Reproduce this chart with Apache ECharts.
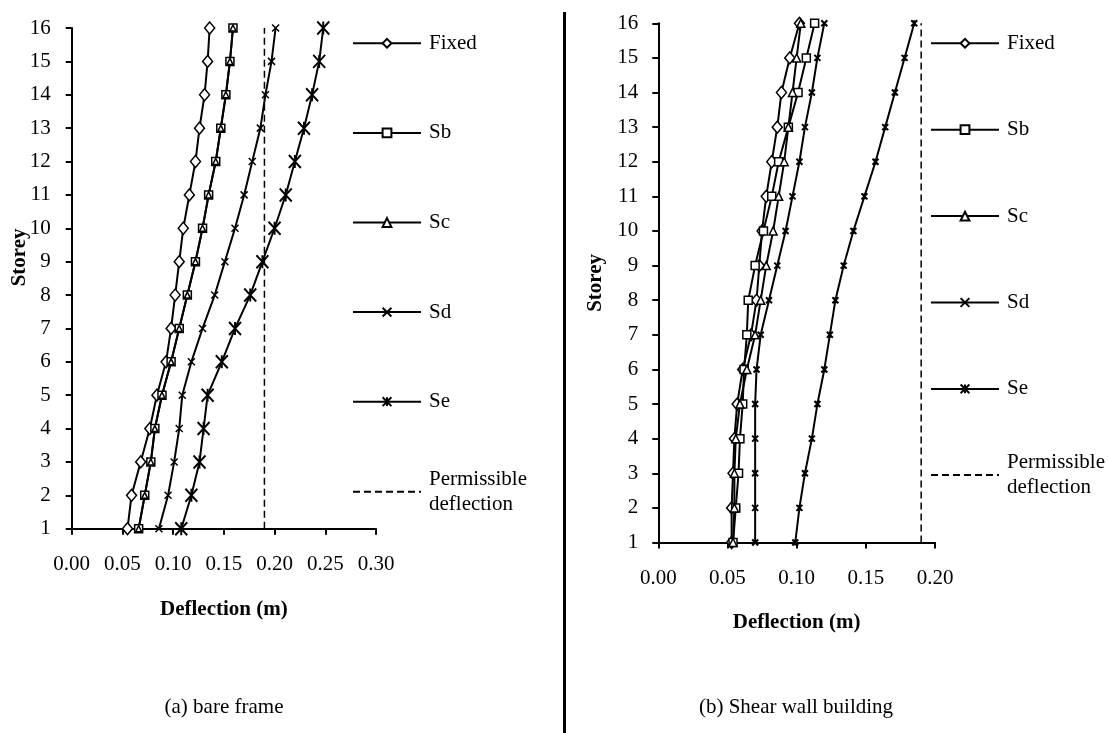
<!DOCTYPE html>
<html>
<head>
<meta charset="utf-8">
<title>Storey deflection</title>
<script src="https://cdn.jsdelivr.net/npm/echarts@6/dist/echarts.min.js"></script>
<style>
  html, body { margin: 0; padding: 0; background: #fff; width: 1108px; height: 733px; overflow: hidden; }
  #bare { position: absolute; left: 0; top: 0; width: 563px; height: 733px; z-index: 1; }
  #wall { position: absolute; left: 565px; top: 0; width: 543px; height: 733px; z-index: 1; }
  #divider { position: absolute; left: 563px; top: 12px; width: 3px; height: 721px; background: #000; z-index: 2; }
</style>
</head>
<body>
<div id="bare"></div>
<div id="wall"></div>
<div id="divider"></div>
<script>
// Storey numbers (y values) shared by every series
const storeys = [1, 2, 3, 4, 5, 6, 7, 8, 9, 10, 11, 12, 13, 14, 15, 16];
const seriesNames = ['Fixed', 'Sb', 'Sc', 'Sd', 'Se'];
const permissibleName = 'Permissible deflection';
const permissibleDeflection = 0.19;

// (a) bare frame: lateral deflection (m) per storey, storey 1 -> 16
const bareFixed = [0.055, 0.059, 0.068, 0.077, 0.084, 0.093, 0.098, 0.102, 0.106, 0.110, 0.116, 0.122, 0.126, 0.131, 0.134, 0.136];
const bareSb    = [0.066, 0.072, 0.078, 0.082, 0.089, 0.098, 0.106, 0.114, 0.122, 0.129, 0.135, 0.142, 0.147, 0.152, 0.156, 0.159];
const bareSc    = [0.066, 0.072, 0.078, 0.082, 0.089, 0.098, 0.106, 0.114, 0.122, 0.129, 0.135, 0.142, 0.147, 0.152, 0.156, 0.159];
const bareSd    = [0.086, 0.095, 0.101, 0.106, 0.109, 0.118, 0.129, 0.141, 0.151, 0.161, 0.170, 0.178, 0.186, 0.191, 0.197, 0.201];
const bareSe    = [0.108, 0.118, 0.126, 0.130, 0.134, 0.148, 0.161, 0.176, 0.188, 0.200, 0.211, 0.220, 0.229, 0.237, 0.244, 0.248];

// (b) shear wall building
const wallFixed = [0.053, 0.053, 0.054, 0.055, 0.057, 0.061, 0.067, 0.071, 0.073, 0.075, 0.078, 0.082, 0.086, 0.089, 0.095, 0.102];
const wallSb    = [0.054, 0.056, 0.058, 0.059, 0.061, 0.062, 0.064, 0.065, 0.070, 0.076, 0.082, 0.087, 0.094, 0.101, 0.107, 0.113];
const wallSc    = [0.054, 0.055, 0.055, 0.056, 0.059, 0.064, 0.070, 0.074, 0.078, 0.083, 0.087, 0.091, 0.094, 0.097, 0.100, 0.103];
const wallSd    = [0.070, 0.070, 0.070, 0.070, 0.070, 0.071, 0.074, 0.080, 0.086, 0.092, 0.097, 0.102, 0.106, 0.111, 0.115, 0.120];
const wallSe    = [0.099, 0.102, 0.106, 0.111, 0.115, 0.120, 0.124, 0.128, 0.134, 0.141, 0.149, 0.157, 0.164, 0.171, 0.178, 0.185];

const FONT = '"Liberation Serif", "Times New Roman", serif';
const CROSS = 'path://M0,0L10,10M10,0L0,10';
const ASTERISK = 'path://M0,0L10,10M10,0L0,10M5,0L5,10';

function lineSeries(name, values, symbol, size, markerStroke) {
  return {
    name: name,
    type: 'line',
    data: values.map((v, i) => [v, storeys[i]]),
    symbol: symbol,
    symbolSize: size,
    showSymbol: true,
    silent: true,
    lineStyle: { color: '#000', width: 2 },
    itemStyle: { color: '#fff', borderColor: '#000', borderWidth: markerStroke },
    emphasis: { disabled: true }
  };
}

function permissibleSeries() {
  return {
    name: permissibleName,
    type: 'line',
    data: [[permissibleDeflection, storeys[0]], [permissibleDeflection, storeys[storeys.length - 1]]],
    symbol: 'none',
    silent: true,
    lineStyle: { color: '#000', width: 1.5, type: [7, 4] },
    itemStyle: { color: 'rgba(0,0,0,0)', borderColor: 'rgba(0,0,0,0)', borderWidth: 0 },
    emphasis: { disabled: true },
    z: 1
  };
}

function buildOption(p) {
  const labelStyle = { fontFamily: FONT, fontSize: 21, color: '#000' };
  const nameStyle = { fontFamily: FONT, fontSize: 21, fontWeight: 'bold', color: '#000' };
  const axisLine = { show: true, onZero: false, lineStyle: { color: '#000', width: 2 } };
  const axisTick = { show: true, inside: false, length: 6, lineStyle: { color: '#000', width: 2 } };
  return {
    animation: false,
    backgroundColor: '#fff',
    grid: {
      left: p.grid.left, top: p.grid.top, width: p.grid.width, height: p.grid.height,
      containLabel: false, outerBoundsMode: 'none'
    },
    xAxis: {
      type: 'value', min: 0, max: p.xMax, interval: 0.05,
      axisLine: axisLine, axisTick: axisTick,
      splitLine: { show: false },
      axisLabel: Object.assign({ margin: 25, formatter: v => v.toFixed(2) }, labelStyle),
      name: 'Deflection (m)', nameLocation: 'middle', nameGap: 70,
      nameMoveOverlap: false,
      nameTextStyle: nameStyle
    },
    yAxis: {
      type: 'value', min: 1, max: 16, interval: 1,
      axisLine: axisLine, axisTick: axisTick,
      splitLine: { show: false },
      axisLabel: Object.assign({ margin: p.yLabelMargin }, labelStyle),
      name: 'Storey', nameLocation: 'middle', nameGap: p.yNameGap,
      nameMoveOverlap: false,
      nameTextStyle: Object.assign({ padding: p.yNamePadding }, nameStyle)
    },
    legend: [
      {
        data: seriesNames,
        orient: 'vertical', left: p.legend.left, top: p.legend.top,
        padding: 0, itemGap: p.legend.gap, itemWidth: 68, itemHeight: 11,
        selectedMode: false,
        textStyle: Object.assign({ lineHeight: 22, padding: [0, 0, 0, 3] }, labelStyle)
      },
      {
        data: [permissibleName],
        orient: 'vertical', left: p.legend.left, top: p.legend.permTop,
        padding: 0, itemWidth: 68, itemHeight: 11,
        selectedMode: false,
        itemStyle: { color: 'rgba(0,0,0,0)', borderColor: 'rgba(0,0,0,0)', borderWidth: 0 },
        formatter: n => n.replace(' ', '\n'),
        textStyle: Object.assign({ lineHeight: 25, padding: [25, 0, 0, 3] }, labelStyle)
      }
    ],
    graphic: [{
      type: 'text', x: p.caption.x, y: p.caption.y, silent: true,
      style: { text: p.caption.text, fontFamily: FONT, fontSize: 21, fill: '#000', align: 'center', verticalAlign: 'middle' }
    }],
    series: [permissibleSeries()].concat(p.series)
  };
}

const bareChart = echarts.init(document.getElementById('bare'), null, { renderer: 'canvas' });
bareChart.setOption(buildOption({
  grid: { left: 71.7, top: 28, width: 304.3, height: 500.7 },
  xMax: 0.30,
  yLabelMargin: 21,
  yNameGap: 42,
  yNamePadding: [0, 0, 0, 42],
  legend: { left: 352, top: 32.3, gap: 67.6, permTop: 454.2 },
  caption: { x: 224, y: 707, text: '(a) bare frame' },
  series: [
    lineSeries('Fixed', bareFixed, 'diamond', [10, 12], 1.5),
    lineSeries('Sb', bareSb, 'rect', 8, 1.5),
    lineSeries('Sc', bareSc, 'triangle', 6, 1.5),
    lineSeries('Sd', bareSd, CROSS, 7, 1.5),
    lineSeries('Se', bareSe, ASTERISK, [12, 13], 2)
  ]
}));

const wallChart = echarts.init(document.getElementById('wall'), null, { renderer: 'canvas' });
wallChart.setOption(buildOption({
  grid: { left: 93.3, top: 23.3, width: 276.7, height: 519.2 },
  xMax: 0.20,
  yLabelMargin: 20,
  yNameGap: 52,
  yNamePadding: 0,
  legend: { left: 365, top: 32.3, gap: 64.4, permTop: 437.5 },
  caption: { x: 231, y: 707, text: '(b) Shear wall building' },
  series: [
    lineSeries('Fixed', wallFixed, 'diamond', [10, 12], 1.5),
    lineSeries('Sb', wallSb, 'rect', 8, 1.5),
    lineSeries('Sc', wallSc, 'triangle', 8, 1.5),
    lineSeries('Sd', wallSd, CROSS, 6, 2),
    lineSeries('Se', wallSe, ASTERISK, 6, 2)
  ]
}));
</script>
</body>
</html>
